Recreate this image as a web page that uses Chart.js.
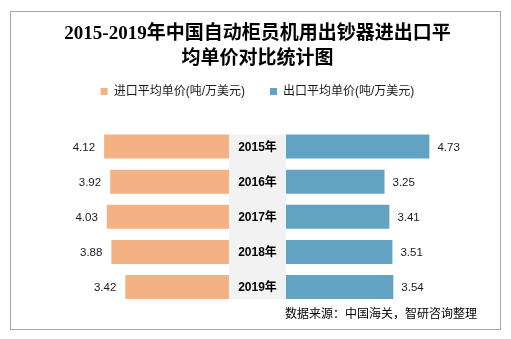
<!DOCTYPE html>
<html>
<head>
<meta charset="utf-8">
<script src="https://cdn.jsdelivr.net/npm/chart.js@4.4.1/dist/chart.umd.min.js"></script>
<style>
  html, body { margin: 0; padding: 0; background: #fff; }
</style>
</head>
<body>
<canvas id="chart" width="511" height="339"></canvas>
<script>
const years = ['2015年', '2016年', '2017年', '2018年', '2019年'];
const importPrice = [4.12, 3.92, 4.03, 3.88, 3.42];
const exportPrice = [4.73, 3.25, 3.41, 3.51, 3.54];
const seriesNames = ['进口平均单价(吨/万美元)', '出口平均单价(吨/万美元)'];
const titleLines = ['2015-2019年中国自动柜员机用出钞器进出口平', '均单价对比统计图'];
const sourceText = '数据来源：中国海关，智研咨询整理';

// half width of the middle year column, in value units
const GAP = 0.94;
const sans = '"Liberation Sans", "Noto Sans CJK SC", sans-serif';

// frame, grey year column, year labels and value labels
const butterfly = {
  id: 'butterfly',
  beforeInit(chart) {
    // leave room between legend and bars
    const fit = chart.legend.fit;
    chart.legend.fit = function () {
      fit.call(this);
      this.height += 21.5;
    };
  },
  beforeDraw(chart) {
    const ctx = chart.ctx;
    ctx.save();
    ctx.fillStyle = '#fff';
    ctx.fillRect(0, 0, chart.width, chart.height);
    ctx.strokeStyle = '#a6a6a6';
    ctx.lineWidth = 1;
    ctx.strokeRect(10.5, 11.5, 490, 318);
    ctx.restore();
  },
  beforeDatasetsDraw(chart) {
    const ctx = chart.ctx;
    const x = chart.scales.x;
    const bars = chart.getDatasetMeta(0).data;
    const first = bars[0], last = bars[bars.length - 1];
    ctx.save();
    ctx.fillStyle = '#f2f2f2';
    const left = x.getPixelForValue(-GAP), right = x.getPixelForValue(GAP);
    const top = first.y - first.height / 2, bottom = last.y + last.height / 2;
    ctx.fillRect(left, top, right - left, bottom - top);
    ctx.restore();
  },
  afterDatasetsDraw(chart) {
    const ctx = chart.ctx;
    const x = chart.scales.x;
    ctx.save();
    ctx.textBaseline = 'middle';
    ctx.fillStyle = '#000';
    ctx.font = 'bold 12px ' + sans;
    ctx.textAlign = 'center';
    chart.getDatasetMeta(0).data.forEach((bar, i) => {
      ctx.fillText(years[i], x.getPixelForValue(0), bar.y + 1);
    });
    ctx.font = '11.5px ' + sans;
    ctx.fillStyle = '#1a1a1a';
    chart.getDatasetMeta(0).data.forEach((bar, i) => {
      ctx.textAlign = 'right';
      ctx.fillText(importPrice[i].toFixed(2), Math.min(bar.x, bar.base) - 9, bar.y + 1);
    });
    chart.getDatasetMeta(1).data.forEach((bar, i) => {
      ctx.textAlign = 'left';
      ctx.fillText(exportPrice[i].toFixed(2), Math.max(bar.x, bar.base) + 8, bar.y + 1);
    });
    ctx.restore();
  }
};

new Chart(document.getElementById('chart'), {
  type: 'bar',
  data: {
    labels: years,
    datasets: [
      {
        label: seriesNames[0],
        data: importPrice.map(v => [-GAP - v, -GAP]),
        backgroundColor: '#f4b183',
        borderWidth: 0,
        grouped: false,
        barPercentage: 0.686,
        categoryPercentage: 1
      },
      {
        label: seriesNames[1],
        data: exportPrice.map(v => [GAP, GAP + v]),
        backgroundColor: '#62a3c4',
        borderWidth: 0,
        grouped: false,
        barPercentage: 0.686,
        categoryPercentage: 1
      }
    ]
  },
  options: {
    indexAxis: 'y',
    responsive: false,
    animation: false,
    devicePixelRatio: 1,
    layout: { padding: { left: 38, right: 34, top: 0, bottom: 0 } },
    scales: {
      x: { display: false, min: -7.24, max: 7.24 },
      y: { display: false }
    },
    plugins: {
      title: {
        display: true,
        text: titleLines,
        color: '#000',
        font: { family: '"Liberation Serif", "Noto Sans CJK SC", serif', size: 19, weight: 'bold', lineHeight: 1.316 },
        padding: { top: 22, bottom: -11.5 }
      },
      legend: {
        display: true,
        position: 'top',
        labels: {
          boxWidth: 7,
          boxHeight: 7,
          padding: 25,
          color: '#1a1a1a',
          font: { family: sans, size: 12 }
        }
      },
      subtitle: {
        display: true,
        position: 'bottom',
        align: 'end',
        text: sourceText,
        color: '#000',
        font: { family: sans, size: 12 },
        padding: { top: 3, bottom: 17 }
      },
      tooltip: { enabled: false }
    }
  },
  plugins: [butterfly]
});
</script>
</body>
</html>
